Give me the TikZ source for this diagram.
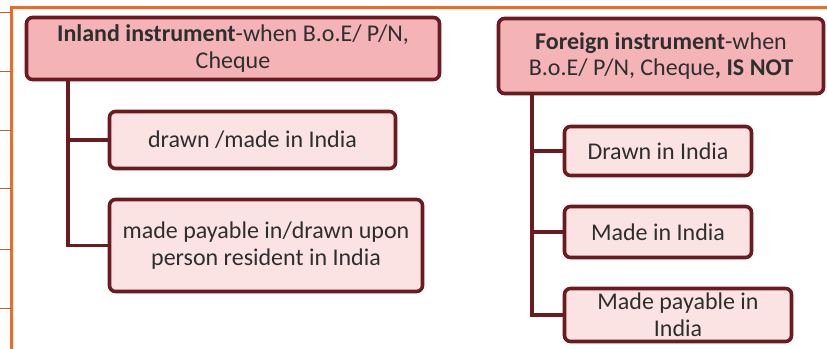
\documentclass[tikz,border=0pt]{standalone}
\usepackage{fontspec}
\setmainfont{Carlito}
\definecolor{maroon}{HTML}{6B1A20}
\definecolor{hdrfill}{HTML}{F4B4B7}
\definecolor{boxfill}{HTML}{FCE3E3}
\definecolor{txt}{HTML}{2E2E2E}
\definecolor{orangeline}{HTML}{F26A22}
\definecolor{rowline}{HTML}{B8642F}
\begin{document}
\begin{tikzpicture}[x=0.75pt,y=-0.75pt,
  hdr/.style={draw=maroon,line width=2.7pt,fill=hdrfill,rounded corners=4.5pt,
    align=center,text=txt,font=\fontsize{18}{20}\selectfont,inner sep=0pt},
  leaf/.style={draw=maroon,line width=2.7pt,fill=boxfill,rounded corners=4.5pt,
    align=center,text=txt,font=\fontsize{18}{20}\selectfont,inner sep=0pt},
  conn/.style={draw=maroon,line width=2.7pt},
  frame/.style={draw=orangeline,line width=2pt},
  rowsep/.style={draw=rowline,line width=0.7pt}]
\useasboundingbox (0,0) rectangle (827,349);
% page frame
\draw[frame] (10,7.5) -- (827,7.5);
\draw[frame] (11.5,7.5) -- (11.5,349);
\foreach \yy in {12,71,130,188,249,308} \draw[rowsep] (0,\yy) -- (10.5,\yy);
% left tree
\node[hdr,minimum width=413pt*0.75,minimum height=62pt*0.75] (lh) at (233,48.5)
  {\textbf{Inland instrument}-when B.o.E/ P/N,\\Cheque};
\node[leaf,minimum width=286pt*0.75,minimum height=57pt*0.75] (l1) at (252.5,140)
  {drawn /made in India};
\node[leaf,minimum width=313pt*0.75,minimum height=92pt*0.75] (l2) at (266,245.5)
  {made payable in/drawn upon\\person resident in India};
\coordinate (lt) at (lh.south -| 68,0);
\draw[conn] (lt) |- (l1.west);
\draw[conn] (lt) |- (l2.west);
% right tree
\node[hdr,minimum width=325pt*0.75,minimum height=75pt*0.75] (rh) at (661,56)
  {\textbf{Foreign instrument}-when\\B.o.E/ P/N, Cheque\textbf{, IS NOT}};
\node[leaf,minimum width=187pt*0.75,minimum height=49pt*0.75] (r1) at (658,151)
  {Drawn in India};
\node[leaf,minimum width=187pt*0.75,minimum height=51pt*0.75] (r2) at (658,232)
  {Made in India};
\node[leaf,minimum width=227pt*0.75,minimum height=53pt*0.75] (r3) at (678,315)
  {Made payable in\\India};
\coordinate (rt) at (rh.south -| 532,0);
\draw[conn] (rt) |- (r1.west);
\draw[conn] (rt) |- (r2.west);
\draw[conn] (rt) |- (r3.west);
\end{tikzpicture}
\end{document}
